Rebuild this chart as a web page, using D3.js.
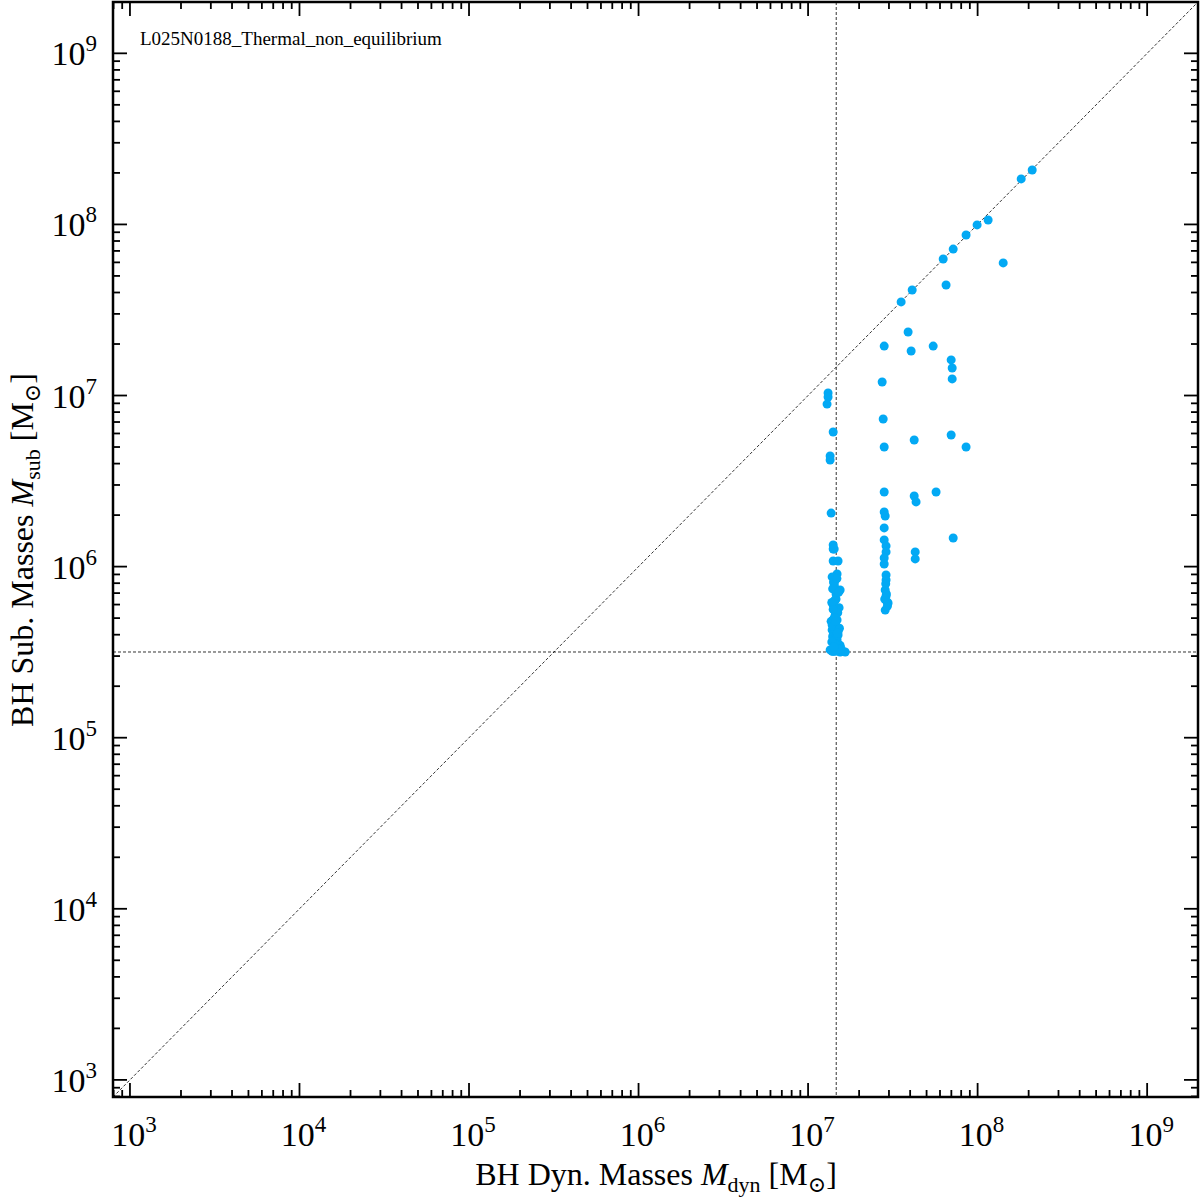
<!DOCTYPE html>
<html><head><meta charset="utf-8">
<script src="https://cdn.jsdelivr.net/npm/d3@7"></script>
<style>body{margin:0;background:#fff}svg{font-family:"Liberation Serif","DejaVu Serif",serif}</style>
</head><body>
<svg id="c" width="1200" height="1200"></svg>
<script>
// log10 masses
const logMdyn = [8.322,8.257,8.062,7.997,7.932,7.856,7.797,7.614,7.549,
 8.151,7.814,7.590,7.608,7.738,7.449,7.844,7.850,7.850,7.437,7.443,7.449,7.626,7.844,7.932,7.449,7.626,7.637,7.755,
 7.449,7.455,7.449,7.449,7.460,7.460,7.449,7.449,7.460,7.460,7.455,7.460,7.466,7.455,7.472,7.856,7.632,7.632,
 7.118,7.118,7.112,7.148,7.130,7.130,7.136,7.148,7.148,7.154,7.148,7.171,7.160,7.171,7.189,7.160,7.165,7.171,7.160,7.171,7.177,7.160,7.189,7.219,7.130,7.154,7.148,7.177,
 7.142,7.154,7.165,7.148,7.160,7.142,7.177,7.154,7.165,7.148,7.160,7.171,7.142,7.154,7.183,7.165,7.136,7.148,7.160,7.177,7.189,7.142,
 7.150,7.170,7.145,7.180,7.155,7.140,7.175,7.160,7.150,7.185,7.145,7.165,7.158,7.172,7.195,7.148,7.162,7.140,7.178,7.152,7.468,7.452,7.462,7.458];
const logMsub = [8.318,8.266,8.026,7.997,7.938,7.856,7.798,7.617,7.547,
 7.775,7.646,7.371,7.260,7.289,7.289,7.208,7.161,7.097,7.079,6.863,6.699,6.740,6.769,6.699,6.436,6.413,6.378,6.436,
 6.319,6.296,6.226,6.156,6.121,6.086,6.050,6.015,5.951,5.922,5.863,5.828,5.793,5.746,5.787,6.167,6.086,6.045,
 7.015,6.991,6.950,6.787,6.647,6.623,6.313,6.126,6.103,6.103,6.033,5.957,5.922,5.863,5.863,5.805,5.746,5.688,5.629,5.571,5.542,5.513,5.501,5.501,5.513,5.887,5.688,6.033,
 5.940,5.900,5.840,5.775,5.717,5.659,5.600,5.560,5.520,5.505,5.505,5.530,5.630,5.700,5.760,5.810,5.680,5.600,5.660,5.620,5.540,5.505,
 5.910,5.930,5.870,5.850,5.800,5.790,5.730,5.700,5.650,5.640,5.590,5.580,5.550,5.610,5.520,5.750,5.680,5.560,5.520,5.530,5.770,5.810,5.840,5.900];
const decades = [3,4,5,6,7,8,9];
const logDomain = [2.9,9.3];
const threshX = 7.166, threshY = 5.501;
const label = "L025N0188_Thermal_non_equilibrium";

const svg = d3.select("#c");
const L=113,R=1198,T=2,B=1097;
const x = d3.scaleLog().domain(logDomain.map(v=>10**v)).range([L,R]);
const y = d3.scaleLog().domain(logDomain.map(v=>10**v)).range([B,T]);

const dash = "3,2";
svg.append("line").attr("x1",x(10**logDomain[0])).attr("y1",y(10**logDomain[0])).attr("x2",x(10**logDomain[1])).attr("y2",y(10**logDomain[1]))
 .attr("stroke","#000").attr("stroke-width",0.8).attr("stroke-dasharray",dash);
svg.append("line").attr("x1",x(10**threshX)).attr("x2",x(10**threshX)).attr("y1",T).attr("y2",B).attr("stroke","#000").attr("stroke-width",0.8).attr("stroke-dasharray",dash);
svg.append("line").attr("y1",y(10**threshY)).attr("y2",y(10**threshY)).attr("x1",L).attr("x2",R).attr("stroke","#000").attr("stroke-width",0.8).attr("stroke-dasharray",dash);

svg.append("g").selectAll("circle").data(logMdyn.map((d,i)=>[d,logMsub[i]])).join("circle")
 .attr("cx",d=>x(10**d[0])).attr("cy",d=>y(10**d[1])).attr("r",4.5).attr("fill","#03a9f4");

const majors = decades.map(d=>10**d);
const minors=[];
for(let d=2;d<=9;d++) for(let k=2;k<=9;k++){const v=k*10**d; if(v>10**logDomain[0]&&v<10**logDomain[1]) minors.push(v);}
const tg = svg.append("g").attr("stroke","#000").attr("stroke-width",1.8);
function ticks(vals,len){
 vals.forEach(v=>{
  const px=x(v), py=y(v);
  tg.append("line").attr("x1",px).attr("x2",px).attr("y1",B).attr("y2",B-len);
  tg.append("line").attr("x1",px).attr("x2",px).attr("y1",T).attr("y2",T+len);
  tg.append("line").attr("y1",py).attr("y2",py).attr("x1",L).attr("x2",L+len);
  tg.append("line").attr("y1",py).attr("y2",py).attr("x1",R).attr("x2",R-len);
 });
}
ticks(majors,14); ticks(minors,7);
svg.append("rect").attr("x",L).attr("y",T).attr("width",R-L).attr("height",B-T).attr("fill","none").attr("stroke","#000").attr("stroke-width",2.5);

decades.forEach(d=>{
 const tx = svg.append("text").attr("x",x(10**d)+4).attr("y",1146).attr("text-anchor","middle").attr("font-size",34);
 tx.append("tspan").text("10"); tx.append("tspan").attr("dy",-14).attr("font-size",23).text(d);
 const ty = svg.append("text").attr("x",97).attr("y",y(10**d)+12).attr("text-anchor","end").attr("font-size",34);
 ty.append("tspan").text("10"); ty.append("tspan").attr("dy",-14).attr("font-size",23).text(d);
});

svg.append("text").attr("x",140).attr("y",45).attr("font-size",19).text(label);

const xl = svg.append("text").attr("x",656).attr("y",1185).attr("text-anchor","middle").attr("font-size",32);
xl.append("tspan").text("BH Dyn. Masses ");
xl.append("tspan").attr("font-style","italic").text("M");
xl.append("tspan").attr("font-size",22).attr("dy",7).text("dyn");
xl.append("tspan").attr("dy",-7).text(" [M");
xl.append("tspan").attr("font-size",22).attr("dy",7).text("⊙");
xl.append("tspan").attr("dy",-7).text("]");

const yl = svg.append("text").attr("transform","translate(33,550) rotate(-90)").attr("text-anchor","middle").attr("font-size",32);
yl.append("tspan").text("BH Sub. Masses ");
yl.append("tspan").attr("font-style","italic").text("M");
yl.append("tspan").attr("font-size",22).attr("dy",7).text("sub");
yl.append("tspan").attr("dy",-7).text(" [M");
yl.append("tspan").attr("font-size",22).attr("dy",7).text("⊙");
yl.append("tspan").attr("dy",-7).text("]");
</script></body></html>
